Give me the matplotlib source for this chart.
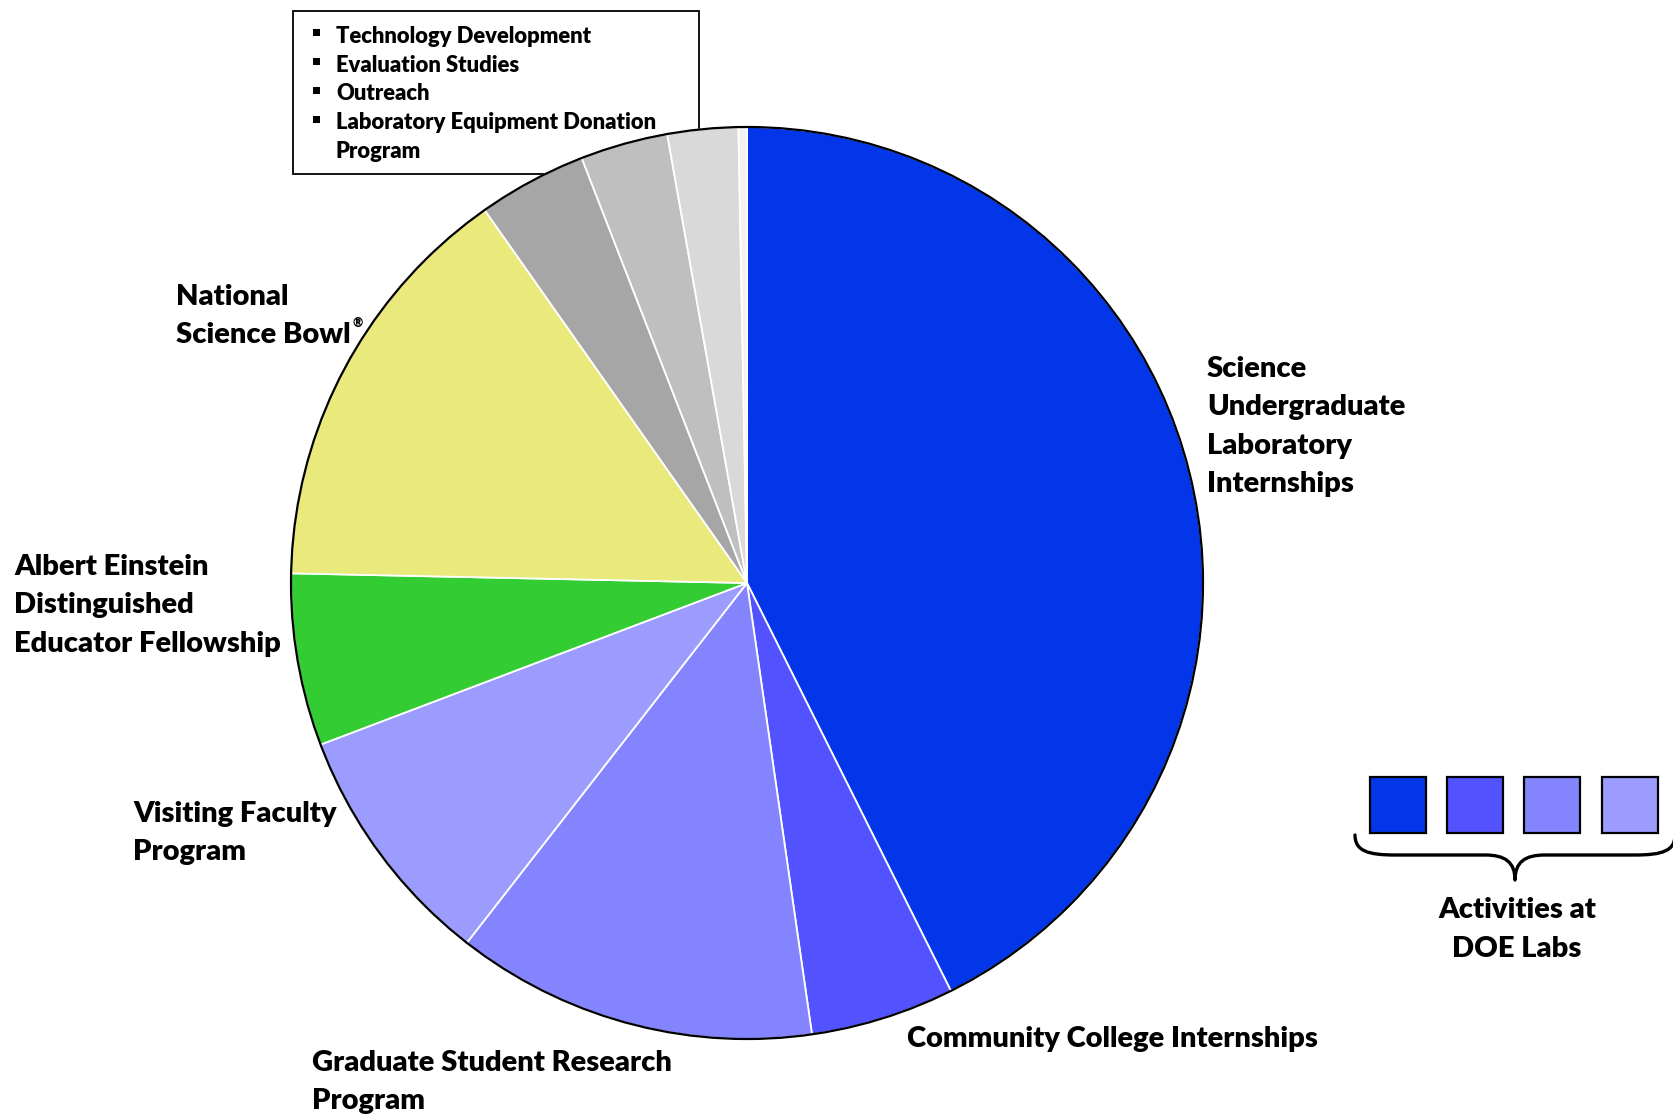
import matplotlib
matplotlib.use('Agg')
import matplotlib.pyplot as plt
from matplotlib.patches import Circle, Rectangle, PathPatch
from matplotlib.path import Path

W, H = 1674, 1114

categories = ["Science Undergraduate Laboratory Internships", "Community College Internships",
              "Graduate Student Research Program", "Visiting Faculty Program",
              "Albert Einstein Distinguished Educator Fellowship", "National Science Bowl",
              "Technology Development", "Evaluation Studies", "Outreach",
              "Laboratory Equipment Donation Program"]
shares = [42.6, 5.1, 12.8, 8.7, 6.1, 14.9, 3.85, 3.1, 2.5, 0.3]
colors = ["#0336E8", "#5252FF", "#8484FF", "#9C9CFF", "#33CC33", "#E9E97C",
          "#A6A6A6", "#BFBFBF", "#D9D9D9", "#F2F2F2"]

label_texts = ["Science\nUndergraduate\nLaboratory\nInternships",
               "Community College Internships",
               "Graduate Student Research\nProgram",
               "Visiting Faculty\nProgram",
               "Albert Einstein\nDistinguished\nEducator Fellowship",
               "National\nScience Bowl"]
label_pos = [(1207, 377), (907, 1047), (312, 1071), (133, 822), (14, 575), (176, 305)]

box_items = ["Technology Development", "Evaluation Studies", "Outreach",
             "Laboratory Equipment Donation\nProgram"]
group_label = "Activities at\nDOE Labs"
lab_colors = colors[:4]

FONT = ['Lato', 'DejaVu Sans']
WEIGHT = 'heavy'
LS = 38.4


def Y(y):
    return H - y


fig = plt.figure(figsize=(16.74, 11.14), dpi=100)
ax = fig.add_axes([0, 0, 1, 1])

cx, cy, r = 747, 583, 456
ax.pie(shares, colors=colors, startangle=90, counterclock=False,
       center=(cx, Y(cy)), radius=r, frame=True,
       wedgeprops=dict(edgecolor='white', linewidth=1.3, zorder=3))
ax.add_patch(Circle((cx, Y(cy)), r, fill=False, edgecolor='black', lw=1.6, zorder=4))
ax.set_xlim(0, W)
ax.set_ylim(0, H)
ax.axis('off')

# legend-like box
ax.add_patch(Rectangle((293.5, Y(174)), 406, 163.5, facecolor='white',
                       edgecolor='black', lw=1.3, zorder=1))
by = 42.7
for item in box_items:
    lines = item.split("\n")
    ax.add_patch(Rectangle((313, Y(by - 6.5)), 7, 7, facecolor='black', edgecolor='none', zorder=2))
    for ln in lines:
        ax.text(336, Y(by), ln, ha='left', va='baseline', fontsize=15.8,
                fontweight=WEIGHT, family=FONT, zorder=2)
        by += 28.8

# slice labels
def multiline(x, y0, txt, ha='left', size=21.0):
    for i, ln in enumerate(txt.split("\n")):
        ax.text(x, Y(y0 + i * LS), ln, ha=ha, va='baseline', fontsize=size,
                fontweight=WEIGHT, family=FONT, zorder=5)

for txt, (x, y) in zip(label_texts, label_pos):
    multiline(x, y, txt)

# registered mark
ax.text(353, Y(327), "®", ha='left', va='baseline', fontsize=9,
        fontweight=WEIGHT, family=FONT, zorder=5)

# squares for DOE lab activities
for i, c in enumerate(lab_colors):
    ax.add_patch(Rectangle((1370 + i * 77.2, Y(833)), 56, 56, facecolor=c,
                           edgecolor='black', lw=1.6, zorder=5))

# brace
pts = [(1355, 835), (1355, 851), (1368, 855), (1395, 855), (1485, 855),
       (1505, 855), (1515, 862), (1515, 880),
       (1515, 862), (1525, 855), (1545, 855), (1635, 855),
       (1662, 855), (1675, 851), (1675, 835)]
codes = [Path.MOVETO, Path.CURVE4, Path.CURVE4, Path.CURVE4, Path.LINETO,
         Path.CURVE4, Path.CURVE4, Path.CURVE4,
         Path.CURVE4, Path.CURVE4, Path.CURVE4, Path.LINETO,
         Path.CURVE4, Path.CURVE4, Path.CURVE4]
path = Path([(x, Y(y)) for x, y in pts], codes)
ax.add_patch(PathPatch(path, facecolor='none', edgecolor='black', lw=2.4, zorder=5,
                       capstyle='round', joinstyle='round'))

multiline(1517, 918.5, group_label, ha='center')

fig.savefig('out.png', dpi=100)
